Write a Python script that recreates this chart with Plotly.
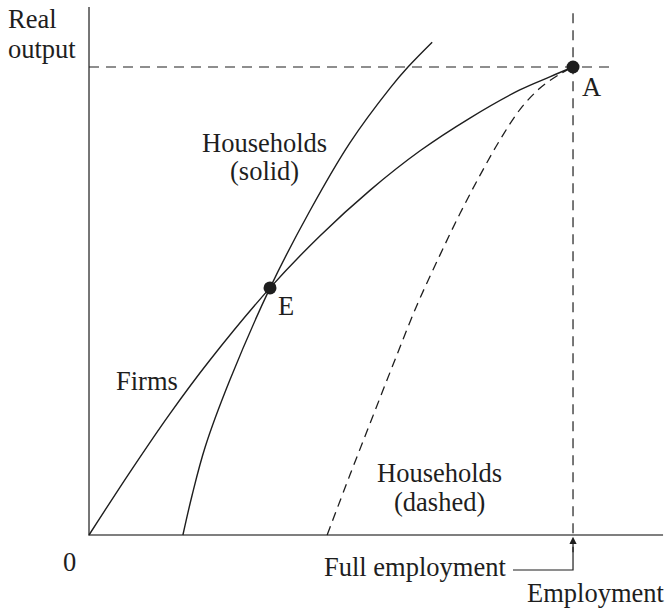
import plotly.graph_objects as go

# Employment (full employment = 100) and real output (output at A = 100)
firms_emp = [0, 8.5, 16.7, 25.0, 37.4, 47.7, 58.1, 68.4, 78.7, 89.0, 95.2, 100]
firms_out = [0, 13.5, 25.9, 37.4, 52.8, 63.9, 73.7, 82.1, 89.1, 95.1, 97.9, 100]

hh_solid_emp = [19.4, 21.3, 24.0, 29.1, 37.4, 45.7, 53.9, 62.2, 65.9, 70.9]
hh_solid_out = [0, 8.5, 18.8, 33.1, 52.8, 69.4, 83.8, 95.5, 100, 105.3]

hh_dashed_emp = [49.2, 53.9, 58.5, 63.2, 67.8, 72.5, 76.7, 80.8, 84.9, 89.1, 93.2, 97.3, 100]
hh_dashed_out = [0, 12.8, 25.0, 37.4, 49.2, 59.8, 68.8, 76.9, 84.4, 91.0, 95.5, 98.5, 100]

point_names = ["E", "A"]
point_emp = [37.4, 100]
point_out = [52.8, 100]

full_employment = 100
full_output = 100

INK = "#1e1e1e"
AXIS = "#555555"
FONT = "Liberation Serif"
FS = 26.5

fig = go.Figure()

# axes
fig.add_trace(go.Scatter(x=[0, 0, 118.6], y=[112.8, 0, 0], mode="lines",
                         line=dict(color=AXIS, width=1.6), hoverinfo="skip"))
# guide lines
fig.add_trace(go.Scatter(x=[0, 108], y=[full_output, full_output], mode="lines",
                         line=dict(color=INK, width=1.2, dash="10px,7px"), hoverinfo="skip"))
fig.add_trace(go.Scatter(x=[full_employment, full_employment], y=[111.5, 0], mode="lines",
                         line=dict(color=INK, width=1.2, dash="10px,7px"), hoverinfo="skip"))
# curves
fig.add_trace(go.Scatter(x=firms_emp, y=firms_out, mode="lines",
                         line=dict(color=INK, width=1.4, shape="spline", smoothing=1),
                         hoverinfo="skip"))
fig.add_trace(go.Scatter(x=hh_solid_emp, y=hh_solid_out, mode="lines",
                         line=dict(color=INK, width=1.4, shape="spline", smoothing=1),
                         hoverinfo="skip"))
fig.add_trace(go.Scatter(x=hh_dashed_emp, y=hh_dashed_out, mode="lines",
                         line=dict(color=INK, width=1.3, dash="9px,6px", shape="spline", smoothing=1),
                         hoverinfo="skip"))
# points
fig.add_trace(go.Scatter(x=point_emp, y=point_out, mode="markers",
                         marker=dict(color=INK, size=13), hoverinfo="skip"))
# leader line for full employment
fig.add_trace(go.Scatter(x=[87.6, full_employment, full_employment], y=[-7.48, -7.48, -2.5],
                         mode="lines", line=dict(color=INK, width=1.2), hoverinfo="skip"))

def label(text, x, y, xanchor="center"):
    fig.add_annotation(x=x, y=y, text=text, showarrow=False, xanchor=xanchor, yanchor="middle",
                       font=dict(family=FONT, size=FS, color=INK))

label("Real", -17.15, 110.3, "left")
label("output", -17.15, 103.8, "left")
label("0", -4.13, -5.8)
label("Households", 36.2, 83.8)
label("(solid)", 36.2, 77.8)
label(point_names[0], 40.7, 48.9)
label(point_names[1], 103.9, 95.7)
label("Firms", 12.0, 32.9)
label("Households", 72.5, 13.3)
label("(dashed)", 72.5, 7.1)
label("Full employment", 86.6, -6.8, "right")
label("Employment", 119.5, -12.4, "right")

fig.add_annotation(x=full_employment, y=-0.4, ax=full_employment, ay=-4.0, axref="x", ayref="y",
                   xref="x", yref="y", text="", showarrow=True, arrowhead=2, arrowsize=1.2,
                   arrowwidth=1.2, arrowcolor=INK)

fig.update_layout(
    width=669, height=611, margin=dict(l=0, r=0, t=0, b=0),
    paper_bgcolor="white", plot_bgcolor="white", showlegend=False,
    xaxis=dict(range=[-18.39, 119.83], visible=False, fixedrange=True),
    yaxis=dict(range=[-16.24, 114.32], visible=False, fixedrange=True),
)

fig.write_html("out.html", config={"displayModeBar": False},
               post_script="document.body.style.margin='0';document.body.style.overflow='hidden';")
